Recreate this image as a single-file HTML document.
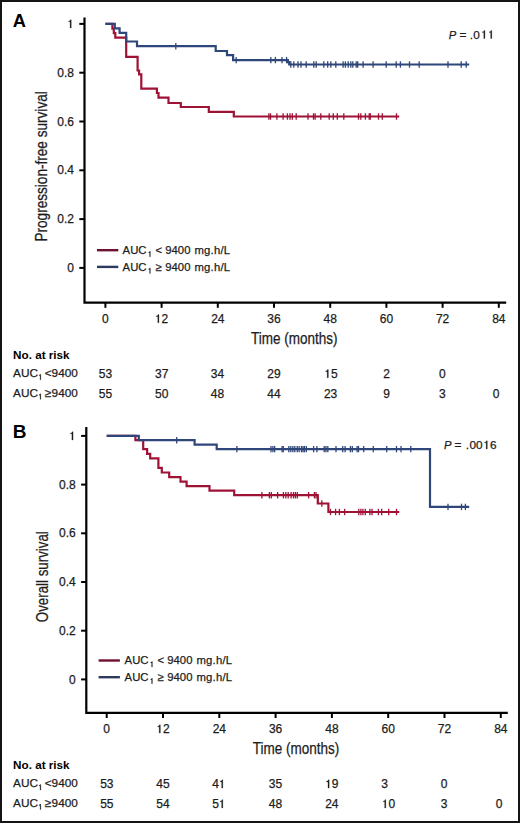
<!DOCTYPE html>
<html><head><meta charset="utf-8"><style>
html,body{margin:0;padding:0;background:#fff;}
body{width:520px;height:823px;overflow:hidden;}
svg{display:block;font-family:"Liberation Sans", sans-serif;}
text{stroke:#1c1c1c;stroke-width:0.25px;paint-order:stroke;}
</style></head><body>
<svg width="520" height="823" viewBox="0 0 520 823">
<rect x="0" y="0" width="520" height="823" fill="#fff"/>
<text x="12.8" y="26.7" font-weight="bold" font-size="18.3" fill="#000" style="stroke:none">A</text>
<path d="M84.5,18.5V302.6H505.1" fill="none" stroke="#000" stroke-width="2.2" stroke-linejoin="miter" stroke-linecap="square"/>
<g stroke="#000" stroke-width="2"><line x1="79.3" y1="23.90" x2="84.5" y2="23.90"/><line x1="79.3" y1="72.70" x2="84.5" y2="72.70"/><line x1="79.3" y1="121.50" x2="84.5" y2="121.50"/><line x1="79.3" y1="170.30" x2="84.5" y2="170.30"/><line x1="79.3" y1="219.10" x2="84.5" y2="219.10"/><line x1="79.3" y1="267.90" x2="84.5" y2="267.90"/></g>
<g stroke="#000" stroke-width="2"><line x1="105.40" y1="302.6" x2="105.40" y2="307.8"/><line x1="161.60" y1="302.6" x2="161.60" y2="307.8"/><line x1="217.80" y1="302.6" x2="217.80" y2="307.8"/><line x1="274.00" y1="302.6" x2="274.00" y2="307.8"/><line x1="330.20" y1="302.6" x2="330.20" y2="307.8"/><line x1="386.40" y1="302.6" x2="386.40" y2="307.8"/><line x1="442.60" y1="302.6" x2="442.60" y2="307.8"/><line x1="498.80" y1="302.6" x2="498.80" y2="307.8"/></g>
<text x="67.226" y="28.0" font-size="12" fill="#1c1c1c"> </text><path d="M688,0V1409H550C528,1290 440,1196 250,1180V1050H488V0Z" transform="translate(67.226,28.0) scale(0.005859,-0.005859)" fill="#1c1c1c" stroke="#1c1c1c" stroke-width="42.7"/><text x="57.218 63.892 67.226" y="76.8" font-size="12" fill="#1c1c1c">0.8</text><text x="57.218 63.892 67.226" y="125.6" font-size="12" fill="#1c1c1c">0.6</text><text x="57.218 63.892 67.226" y="174.4" font-size="12" fill="#1c1c1c">0.4</text><text x="57.218 63.892 67.226" y="223.2" font-size="12" fill="#1c1c1c">0.2</text><text x="67.226" y="272.0" font-size="12" fill="#1c1c1c">0</text>
<text x="102.063" y="322.8" font-size="12" fill="#1c1c1c">0</text><text x="154.926 161.6" y="322.8" font-size="12" fill="#1c1c1c"> 2</text><path d="M688,0V1409H550C528,1290 440,1196 250,1180V1050H488V0Z" transform="translate(154.926,322.8) scale(0.005859,-0.005859)" fill="#1c1c1c" stroke="#1c1c1c" stroke-width="42.7"/><text x="211.126 217.8" y="322.8" font-size="12" fill="#1c1c1c">24</text><text x="267.326 274.0" y="322.8" font-size="12" fill="#1c1c1c">36</text><text x="323.526 330.2" y="322.8" font-size="12" fill="#1c1c1c">48</text><text x="379.726 386.4" y="322.8" font-size="12" fill="#1c1c1c">60</text><text x="435.926 442.6" y="322.8" font-size="12" fill="#1c1c1c">72</text><text x="492.126 498.8" y="322.8" font-size="12" fill="#1c1c1c">84</text>
<text x="294.3" y="343.7" font-size="16" text-anchor="middle" textLength="86.5" lengthAdjust="spacingAndGlyphs" fill="#1c1c1c">Time (months)</text>
<text transform="translate(46.8,166.4) rotate(-90)" x="0" y="0" font-size="16" text-anchor="middle" textLength="150.3" lengthAdjust="spacingAndGlyphs" fill="#1c1c1c">Progression-free survival</text>
<text x="448.85" y="38.6" font-size="11.2" fill="#1c1c1c" font-style="italic">P</text><text x="459.6 469.82 473.24 480.96 487.86" y="38.6" font-size="11.8" fill="#1c1c1c">=.0  </text><path d="M688,0V1409H550C528,1290 440,1196 250,1180V1050H488V0Z" transform="translate(480.96,38.6) scale(0.005762,-0.005762)" fill="#1c1c1c" stroke="#1c1c1c" stroke-width="43.4"/><path d="M688,0V1409H550C528,1290 440,1196 250,1180V1050H488V0Z" transform="translate(487.86,38.6) scale(0.005762,-0.005762)" fill="#1c1c1c" stroke="#1c1c1c" stroke-width="43.4"/>
<path d="M105.4,23.9H112.4V28.6H113.8V33.2H115.3V37.6H126.2V56.8H137.6V70.5H139.1V74.4H141.3V88.6H156.9V93.0H158.5V97.7H168.5V103.0H180.8V107.0H208.8V111.8H233.8V116.5H399.2" fill="none" stroke="#9e1236" stroke-width="2.2"/>
<path d="M105.4,23.9H114.8V28.3H119.6V32.8H126.2V41.5H137.0V46.2H215.7V51.0H227.0V55.1H233.1V60.1H287.9V62.2H289.2V64.5H469.2" fill="none" stroke="#2e4679" stroke-width="2.2"/>
<g stroke="#9e1236" stroke-width="1.3"><line x1="268.9" y1="113.3" x2="268.9" y2="119.7"/><line x1="270.5" y1="113.3" x2="270.5" y2="119.7"/><line x1="276.9" y1="113.3" x2="276.9" y2="119.7"/><line x1="283.1" y1="113.3" x2="283.1" y2="119.7"/><line x1="287.4" y1="113.3" x2="287.4" y2="119.7"/><line x1="290.0" y1="113.3" x2="290.0" y2="119.7"/><line x1="292.3" y1="113.3" x2="292.3" y2="119.7"/><line x1="296.2" y1="113.3" x2="296.2" y2="119.7"/><line x1="308.0" y1="113.3" x2="308.0" y2="119.7"/><line x1="313.5" y1="113.3" x2="313.5" y2="119.7"/><line x1="315.1" y1="113.3" x2="315.1" y2="119.7"/><line x1="320.8" y1="113.3" x2="320.8" y2="119.7"/><line x1="329.2" y1="113.3" x2="329.2" y2="119.7"/><line x1="333.3" y1="113.3" x2="333.3" y2="119.7"/><line x1="337.3" y1="113.3" x2="337.3" y2="119.7"/><line x1="343.8" y1="113.3" x2="343.8" y2="119.7"/><line x1="358.5" y1="113.3" x2="358.5" y2="119.7"/><line x1="360.8" y1="113.3" x2="360.8" y2="119.7"/><line x1="365.4" y1="113.3" x2="365.4" y2="119.7"/><line x1="369.2" y1="113.3" x2="369.2" y2="119.7"/><line x1="370.3" y1="113.3" x2="370.3" y2="119.7"/><line x1="378.5" y1="113.3" x2="378.5" y2="119.7"/><line x1="382.3" y1="113.3" x2="382.3" y2="119.7"/><line x1="396.5" y1="113.3" x2="396.5" y2="119.7"/></g>
<g stroke="#2e4679" stroke-width="1.3"><line x1="175.8" y1="43.0" x2="175.8" y2="49.400000000000006"/><line x1="236.2" y1="56.9" x2="236.2" y2="63.300000000000004"/><line x1="270.8" y1="56.9" x2="270.8" y2="63.300000000000004"/><line x1="275.4" y1="56.9" x2="275.4" y2="63.300000000000004"/><line x1="282.0" y1="56.9" x2="282.0" y2="63.300000000000004"/><line x1="286.6" y1="56.9" x2="286.6" y2="63.300000000000004"/><line x1="290.8" y1="61.3" x2="290.8" y2="67.7"/><line x1="293.8" y1="61.3" x2="293.8" y2="67.7"/><line x1="298.0" y1="61.3" x2="298.0" y2="67.7"/><line x1="301.0" y1="61.3" x2="301.0" y2="67.7"/><line x1="306.2" y1="61.3" x2="306.2" y2="67.7"/><line x1="313.8" y1="61.3" x2="313.8" y2="67.7"/><line x1="316.2" y1="61.3" x2="316.2" y2="67.7"/><line x1="323.8" y1="61.3" x2="323.8" y2="67.7"/><line x1="327.7" y1="61.3" x2="327.7" y2="67.7"/><line x1="330.8" y1="61.3" x2="330.8" y2="67.7"/><line x1="335.8" y1="61.3" x2="335.8" y2="67.7"/><line x1="343.1" y1="61.3" x2="343.1" y2="67.7"/><line x1="345.4" y1="61.3" x2="345.4" y2="67.7"/><line x1="348.2" y1="61.3" x2="348.2" y2="67.7"/><line x1="350.8" y1="61.3" x2="350.8" y2="67.7"/><line x1="352.8" y1="61.3" x2="352.8" y2="67.7"/><line x1="356.2" y1="61.3" x2="356.2" y2="67.7"/><line x1="357.7" y1="61.3" x2="357.7" y2="67.7"/><line x1="363.1" y1="61.3" x2="363.1" y2="67.7"/><line x1="373.1" y1="61.3" x2="373.1" y2="67.7"/><line x1="386.2" y1="61.3" x2="386.2" y2="67.7"/><line x1="396.2" y1="61.3" x2="396.2" y2="67.7"/><line x1="400.4" y1="61.3" x2="400.4" y2="67.7"/><line x1="409.5" y1="61.3" x2="409.5" y2="67.7"/><line x1="419.2" y1="61.3" x2="419.2" y2="67.7"/><line x1="448.0" y1="61.3" x2="448.0" y2="67.7"/><line x1="461.2" y1="61.3" x2="461.2" y2="67.7"/><line x1="466.2" y1="61.3" x2="466.2" y2="67.7"/></g>
<line x1="97" y1="250.2" x2="118.3" y2="250.2" stroke="#701030" stroke-width="2.4"/>
<line x1="97" y1="266.9" x2="118.3" y2="266.9" stroke="#2b3a5e" stroke-width="2.4"/>
<g font-size="11.3" fill="#1c1c1c"><text x="122.6" y="254.0">AUC</text><text x="147.7" y="256.8" font-size="8" fill="#1c1c1c"> </text><path d="M688,0V1409H550C528,1290 440,1196 250,1180V1050H488V0Z" transform="translate(147.7,256.8) scale(0.003906,-0.003906)" fill="#1c1c1c" stroke="#1c1c1c" stroke-width="64.0"/><text x="155.6" y="254.0">&lt;</text><text x="165.3" y="254.0">9400</text><text x="194.5" y="254.0" textLength="35.6" lengthAdjust="spacing">mg.h/L</text></g>
<g font-size="11.3" fill="#1c1c1c"><text x="122.6" y="270.7">AUC</text><text x="147.7" y="273.5" font-size="8" fill="#1c1c1c"> </text><path d="M688,0V1409H550C528,1290 440,1196 250,1180V1050H488V0Z" transform="translate(147.7,273.5) scale(0.003906,-0.003906)" fill="#1c1c1c" stroke="#1c1c1c" stroke-width="64.0"/><text x="155.6" y="270.7">&#8805;</text><text x="165.3" y="270.7">9400</text><text x="194.5" y="270.7" textLength="35.6" lengthAdjust="spacing">mg.h/L</text></g>
<text x="13.1" y="359.0" font-size="11.7" font-weight="bold" fill="#000" style="stroke:none">No. at risk</text>
<text x="13.1" y="376.9" font-size="11.8" fill="#1c1c1c">AUC</text>
<text x="38.1" y="379.7" font-size="8" fill="#1c1c1c"> </text><path d="M688,0V1409H550C528,1290 440,1196 250,1180V1050H488V0Z" transform="translate(38.1,379.7) scale(0.003906,-0.003906)" fill="#1c1c1c" stroke="#1c1c1c" stroke-width="64.0"/>
<text x="44.8" y="376.9" font-size="11.8" fill="#1c1c1c">&lt;</text>
<text x="51.6 58.163 64.725 71.288" y="376.9" font-size="11.8" fill="#1c1c1c">9400</text>
<text x="98.726 105.4" y="377.8" font-size="12" fill="#1c1c1c">53</text>
<text x="155.026 161.7" y="377.8" font-size="12" fill="#1c1c1c">37</text>
<text x="210.826 217.5" y="377.8" font-size="12" fill="#1c1c1c">34</text>
<text x="267.326 274.0" y="377.8" font-size="12" fill="#1c1c1c">29</text>
<text x="324.326 331.0" y="377.8" font-size="12" fill="#1c1c1c"> 5</text><path d="M688,0V1409H550C528,1290 440,1196 250,1180V1050H488V0Z" transform="translate(324.326,377.8) scale(0.005859,-0.005859)" fill="#1c1c1c" stroke="#1c1c1c" stroke-width="42.7"/>
<text x="383.163" y="377.8" font-size="12" fill="#1c1c1c">2</text>
<text x="438.963" y="377.8" font-size="12" fill="#1c1c1c">0</text>
<text x="13.1" y="396.5" font-size="11.8" fill="#1c1c1c">AUC</text>
<text x="38.1" y="399.3" font-size="8" fill="#1c1c1c"> </text><path d="M688,0V1409H550C528,1290 440,1196 250,1180V1050H488V0Z" transform="translate(38.1,399.3) scale(0.003906,-0.003906)" fill="#1c1c1c" stroke="#1c1c1c" stroke-width="64.0"/>
<text x="44.8" y="396.5" font-size="11.8" fill="#1c1c1c">&#8805;</text>
<text x="51.6 58.163 64.725 71.288" y="396.5" font-size="11.8" fill="#1c1c1c">9400</text>
<text x="98.726 105.4" y="397.6" font-size="12" fill="#1c1c1c">55</text>
<text x="155.026 161.7" y="397.6" font-size="12" fill="#1c1c1c">50</text>
<text x="210.826 217.5" y="397.6" font-size="12" fill="#1c1c1c">48</text>
<text x="267.326 274.0" y="397.6" font-size="12" fill="#1c1c1c">44</text>
<text x="323.926 330.6" y="397.6" font-size="12" fill="#1c1c1c">23</text>
<text x="383.163" y="397.6" font-size="12" fill="#1c1c1c">9</text>
<text x="438.963" y="397.6" font-size="12" fill="#1c1c1c">3</text>
<text x="492.863" y="397.6" font-size="12" fill="#1c1c1c">0</text>
<text x="12.7" y="438.4" font-weight="bold" font-size="19" fill="#000" style="stroke:none">B</text>
<path d="M86.3,428.1V712.8H506.70000000000005" fill="none" stroke="#000" stroke-width="2.2" stroke-linejoin="miter" stroke-linecap="square"/>
<g stroke="#000" stroke-width="2"><line x1="81.1" y1="435.90" x2="86.3" y2="435.90"/><line x1="81.1" y1="484.60" x2="86.3" y2="484.60"/><line x1="81.1" y1="533.30" x2="86.3" y2="533.30"/><line x1="81.1" y1="582.00" x2="86.3" y2="582.00"/><line x1="81.1" y1="630.70" x2="86.3" y2="630.70"/><line x1="81.1" y1="679.40" x2="86.3" y2="679.40"/></g>
<g stroke="#000" stroke-width="2"><line x1="106.70" y1="712.8" x2="106.70" y2="718.0"/><line x1="163.00" y1="712.8" x2="163.00" y2="718.0"/><line x1="219.30" y1="712.8" x2="219.30" y2="718.0"/><line x1="275.60" y1="712.8" x2="275.60" y2="718.0"/><line x1="331.90" y1="712.8" x2="331.90" y2="718.0"/><line x1="388.20" y1="712.8" x2="388.20" y2="718.0"/><line x1="444.50" y1="712.8" x2="444.50" y2="718.0"/><line x1="500.80" y1="712.8" x2="500.80" y2="718.0"/></g>
<text x="69.026" y="440.0" font-size="12" fill="#1c1c1c"> </text><path d="M688,0V1409H550C528,1290 440,1196 250,1180V1050H488V0Z" transform="translate(69.026,440.0) scale(0.005859,-0.005859)" fill="#1c1c1c" stroke="#1c1c1c" stroke-width="42.7"/><text x="59.018 65.692 69.026" y="488.7" font-size="12" fill="#1c1c1c">0.8</text><text x="59.018 65.692 69.026" y="537.4" font-size="12" fill="#1c1c1c">0.6</text><text x="59.018 65.692 69.026" y="586.1" font-size="12" fill="#1c1c1c">0.4</text><text x="59.018 65.692 69.026" y="634.8" font-size="12" fill="#1c1c1c">0.2</text><text x="69.026" y="683.5" font-size="12" fill="#1c1c1c">0</text>
<text x="103.363" y="733.0" font-size="12" fill="#1c1c1c">0</text><text x="156.326 163.0" y="733.0" font-size="12" fill="#1c1c1c"> 2</text><path d="M688,0V1409H550C528,1290 440,1196 250,1180V1050H488V0Z" transform="translate(156.326,733.0) scale(0.005859,-0.005859)" fill="#1c1c1c" stroke="#1c1c1c" stroke-width="42.7"/><text x="212.626 219.3" y="733.0" font-size="12" fill="#1c1c1c">24</text><text x="268.926 275.6" y="733.0" font-size="12" fill="#1c1c1c">36</text><text x="325.226 331.9" y="733.0" font-size="12" fill="#1c1c1c">48</text><text x="381.526 388.2" y="733.0" font-size="12" fill="#1c1c1c">60</text><text x="437.826 444.5" y="733.0" font-size="12" fill="#1c1c1c">72</text><text x="494.126 500.8" y="733.0" font-size="12" fill="#1c1c1c">84</text>
<text x="295.90000000000003" y="754.0" font-size="16" text-anchor="middle" textLength="86.5" lengthAdjust="spacingAndGlyphs" fill="#1c1c1c">Time (months)</text>
<text transform="translate(48.4,576.7) rotate(-90)" x="0" y="0" font-size="16" text-anchor="middle" textLength="91.0" lengthAdjust="spacingAndGlyphs" fill="#1c1c1c">Overall survival</text>
<text x="443.95" y="448.9" font-size="11.2" fill="#1c1c1c" font-style="italic">P</text><text x="454.5 465.72 469.44 476.04 483.36 490.1" y="448.9" font-size="11.8" fill="#1c1c1c">=.00 6</text><path d="M688,0V1409H550C528,1290 440,1196 250,1180V1050H488V0Z" transform="translate(483.36,448.9) scale(0.005762,-0.005762)" fill="#1c1c1c" stroke="#1c1c1c" stroke-width="43.4"/>
<path d="M106.7,435.9H135.4V440.2H143.2V449.1H147.1V453.8H150.2V458.3H158.4V467.8H161.8V472.5H169.2V477.1H180.5V481.6H186.6V486.2H209.5V490.7H234.2V495.2H317.8V503.5H328.4V512.0H399.2" fill="none" stroke="#9e1236" stroke-width="2.2"/>
<path d="M106.7,435.9H138.8V440.2H194.6V444.6H216.7V449.1H430.0V506.9H469.2" fill="none" stroke="#2e4679" stroke-width="2.2"/>
<g stroke="#9e1236" stroke-width="1.3"><line x1="261.9" y1="492.0" x2="261.9" y2="498.4"/><line x1="269.4" y1="492.0" x2="269.4" y2="498.4"/><line x1="271.3" y1="492.0" x2="271.3" y2="498.4"/><line x1="277.6" y1="492.0" x2="277.6" y2="498.4"/><line x1="283.4" y1="492.0" x2="283.4" y2="498.4"/><line x1="285.8" y1="492.0" x2="285.8" y2="498.4"/><line x1="288.2" y1="492.0" x2="288.2" y2="498.4"/><line x1="291.1" y1="492.0" x2="291.1" y2="498.4"/><line x1="293.5" y1="492.0" x2="293.5" y2="498.4"/><line x1="295.4" y1="492.0" x2="295.4" y2="498.4"/><line x1="297.3" y1="492.0" x2="297.3" y2="498.4"/><line x1="308.6" y1="492.0" x2="308.6" y2="498.4"/><line x1="314.4" y1="492.0" x2="314.4" y2="498.4"/><line x1="316.0" y1="492.0" x2="316.0" y2="498.4"/><line x1="321.8" y1="500.3" x2="321.8" y2="506.7"/><line x1="330.5" y1="508.8" x2="330.5" y2="515.2"/><line x1="335.6" y1="508.8" x2="335.6" y2="515.2"/><line x1="339.4" y1="508.8" x2="339.4" y2="515.2"/><line x1="344.6" y1="508.8" x2="344.6" y2="515.2"/><line x1="358.8" y1="508.8" x2="358.8" y2="515.2"/><line x1="360.9" y1="508.8" x2="360.9" y2="515.2"/><line x1="362.9" y1="508.8" x2="362.9" y2="515.2"/><line x1="365.3" y1="508.8" x2="365.3" y2="515.2"/><line x1="369.9" y1="508.8" x2="369.9" y2="515.2"/><line x1="372.0" y1="508.8" x2="372.0" y2="515.2"/><line x1="378.4" y1="508.8" x2="378.4" y2="515.2"/><line x1="381.7" y1="508.8" x2="381.7" y2="515.2"/><line x1="388.7" y1="508.8" x2="388.7" y2="515.2"/><line x1="396.5" y1="508.8" x2="396.5" y2="515.2"/></g>
<g stroke="#2e4679" stroke-width="1.3"><line x1="176.7" y1="437.0" x2="176.7" y2="443.4"/><line x1="236.9" y1="445.90000000000003" x2="236.9" y2="452.3"/><line x1="271.0" y1="445.90000000000003" x2="271.0" y2="452.3"/><line x1="272.9" y1="445.90000000000003" x2="272.9" y2="452.3"/><line x1="274.6" y1="445.90000000000003" x2="274.6" y2="452.3"/><line x1="282.1" y1="445.90000000000003" x2="282.1" y2="452.3"/><line x1="283.3" y1="445.90000000000003" x2="283.3" y2="452.3"/><line x1="288.8" y1="445.90000000000003" x2="288.8" y2="452.3"/><line x1="290.8" y1="445.90000000000003" x2="290.8" y2="452.3"/><line x1="292.9" y1="445.90000000000003" x2="292.9" y2="452.3"/><line x1="294.8" y1="445.90000000000003" x2="294.8" y2="452.3"/><line x1="297.2" y1="445.90000000000003" x2="297.2" y2="452.3"/><line x1="299.1" y1="445.90000000000003" x2="299.1" y2="452.3"/><line x1="301.5" y1="445.90000000000003" x2="301.5" y2="452.3"/><line x1="303.0" y1="445.90000000000003" x2="303.0" y2="452.3"/><line x1="304.4" y1="445.90000000000003" x2="304.4" y2="452.3"/><line x1="306.3" y1="445.90000000000003" x2="306.3" y2="452.3"/><line x1="313.6" y1="445.90000000000003" x2="313.6" y2="452.3"/><line x1="316.9" y1="445.90000000000003" x2="316.9" y2="452.3"/><line x1="324.2" y1="445.90000000000003" x2="324.2" y2="452.3"/><line x1="325.9" y1="445.90000000000003" x2="325.9" y2="452.3"/><line x1="327.8" y1="445.90000000000003" x2="327.8" y2="452.3"/><line x1="336.0" y1="445.90000000000003" x2="336.0" y2="452.3"/><line x1="342.7" y1="445.90000000000003" x2="342.7" y2="452.3"/><line x1="345.1" y1="445.90000000000003" x2="345.1" y2="452.3"/><line x1="350.4" y1="445.90000000000003" x2="350.4" y2="452.3"/><line x1="352.3" y1="445.90000000000003" x2="352.3" y2="452.3"/><line x1="357.1" y1="445.90000000000003" x2="357.1" y2="452.3"/><line x1="358.5" y1="445.90000000000003" x2="358.5" y2="452.3"/><line x1="363.7" y1="445.90000000000003" x2="363.7" y2="452.3"/><line x1="373.3" y1="445.90000000000003" x2="373.3" y2="452.3"/><line x1="386.7" y1="445.90000000000003" x2="386.7" y2="452.3"/><line x1="396.5" y1="445.90000000000003" x2="396.5" y2="452.3"/><line x1="401.0" y1="445.90000000000003" x2="401.0" y2="452.3"/><line x1="410.8" y1="445.90000000000003" x2="410.8" y2="452.3"/><line x1="448.0" y1="503.7" x2="448.0" y2="510.09999999999997"/><line x1="461.5" y1="503.7" x2="461.5" y2="510.09999999999997"/><line x1="465.4" y1="503.7" x2="465.4" y2="510.09999999999997"/></g>
<line x1="98.6" y1="660.5" x2="119.89999999999999" y2="660.5" stroke="#701030" stroke-width="2.4"/>
<line x1="98.6" y1="677.2" x2="119.89999999999999" y2="677.2" stroke="#2b3a5e" stroke-width="2.4"/>
<g font-size="11.3" fill="#1c1c1c"><text x="124.6" y="664.3">AUC</text><text x="149.7" y="667.1" font-size="8" fill="#1c1c1c"> </text><path d="M688,0V1409H550C528,1290 440,1196 250,1180V1050H488V0Z" transform="translate(149.7,667.1) scale(0.003906,-0.003906)" fill="#1c1c1c" stroke="#1c1c1c" stroke-width="64.0"/><text x="157.6" y="664.3">&lt;</text><text x="167.3" y="664.3">9400</text><text x="196.5" y="664.3" textLength="35.6" lengthAdjust="spacing">mg.h/L</text></g>
<g font-size="11.3" fill="#1c1c1c"><text x="124.6" y="681.0">AUC</text><text x="149.7" y="683.8" font-size="8" fill="#1c1c1c"> </text><path d="M688,0V1409H550C528,1290 440,1196 250,1180V1050H488V0Z" transform="translate(149.7,683.8) scale(0.003906,-0.003906)" fill="#1c1c1c" stroke="#1c1c1c" stroke-width="64.0"/><text x="157.6" y="681.0">&#8805;</text><text x="167.3" y="681.0">9400</text><text x="196.5" y="681.0" textLength="35.6" lengthAdjust="spacing">mg.h/L</text></g>
<text x="13.1" y="769.3" font-size="11.7" font-weight="bold" fill="#000" style="stroke:none">No. at risk</text>
<text x="13.1" y="787.2" font-size="11.8" fill="#1c1c1c">AUC</text>
<text x="38.1" y="790.0" font-size="8" fill="#1c1c1c"> </text><path d="M688,0V1409H550C528,1290 440,1196 250,1180V1050H488V0Z" transform="translate(38.1,790.0) scale(0.003906,-0.003906)" fill="#1c1c1c" stroke="#1c1c1c" stroke-width="64.0"/>
<text x="44.8" y="787.2" font-size="11.8" fill="#1c1c1c">&lt;</text>
<text x="51.6 58.163 64.725 71.288" y="787.2" font-size="11.8" fill="#1c1c1c">9400</text>
<text x="100.126 106.8" y="788.1" font-size="12" fill="#1c1c1c">53</text>
<text x="156.326 163.0" y="788.1" font-size="12" fill="#1c1c1c">45</text>
<text x="212.126 218.8" y="788.1" font-size="12" fill="#1c1c1c">4 </text><path d="M688,0V1409H550C528,1290 440,1196 250,1180V1050H488V0Z" transform="translate(218.8,788.1) scale(0.005859,-0.005859)" fill="#1c1c1c" stroke="#1c1c1c" stroke-width="42.7"/>
<text x="268.826 275.5" y="788.1" font-size="12" fill="#1c1c1c">35</text>
<text x="325.126 331.8" y="788.1" font-size="12" fill="#1c1c1c"> 9</text><path d="M688,0V1409H550C528,1290 440,1196 250,1180V1050H488V0Z" transform="translate(325.126,788.1) scale(0.005859,-0.005859)" fill="#1c1c1c" stroke="#1c1c1c" stroke-width="42.7"/>
<text x="381.163" y="788.1" font-size="12" fill="#1c1c1c">3</text>
<text x="440.863" y="788.1" font-size="12" fill="#1c1c1c">0</text>
<text x="13.1" y="806.8" font-size="11.8" fill="#1c1c1c">AUC</text>
<text x="38.1" y="809.6" font-size="8" fill="#1c1c1c"> </text><path d="M688,0V1409H550C528,1290 440,1196 250,1180V1050H488V0Z" transform="translate(38.1,809.6) scale(0.003906,-0.003906)" fill="#1c1c1c" stroke="#1c1c1c" stroke-width="64.0"/>
<text x="44.8" y="806.8" font-size="11.8" fill="#1c1c1c">&#8805;</text>
<text x="51.6 58.163 64.725 71.288" y="806.8" font-size="11.8" fill="#1c1c1c">9400</text>
<text x="100.126 106.8" y="807.9" font-size="12" fill="#1c1c1c">55</text>
<text x="156.326 163.0" y="807.9" font-size="12" fill="#1c1c1c">54</text>
<text x="212.126 218.8" y="807.9" font-size="12" fill="#1c1c1c">5 </text><path d="M688,0V1409H550C528,1290 440,1196 250,1180V1050H488V0Z" transform="translate(218.8,807.9) scale(0.005859,-0.005859)" fill="#1c1c1c" stroke="#1c1c1c" stroke-width="42.7"/>
<text x="268.826 275.5" y="807.9" font-size="12" fill="#1c1c1c">48</text>
<text x="325.126 331.8" y="807.9" font-size="12" fill="#1c1c1c">24</text>
<text x="381.826 388.5" y="807.9" font-size="12" fill="#1c1c1c"> 0</text><path d="M688,0V1409H550C528,1290 440,1196 250,1180V1050H488V0Z" transform="translate(381.826,807.9) scale(0.005859,-0.005859)" fill="#1c1c1c" stroke="#1c1c1c" stroke-width="42.7"/>
<text x="440.663" y="807.9" font-size="12" fill="#1c1c1c">3</text>
<text x="495.863" y="807.9" font-size="12" fill="#1c1c1c">0</text>
<rect x="1" y="1" width="518" height="821" fill="none" stroke="#141414" stroke-width="2"/>
</svg>
</body></html>
